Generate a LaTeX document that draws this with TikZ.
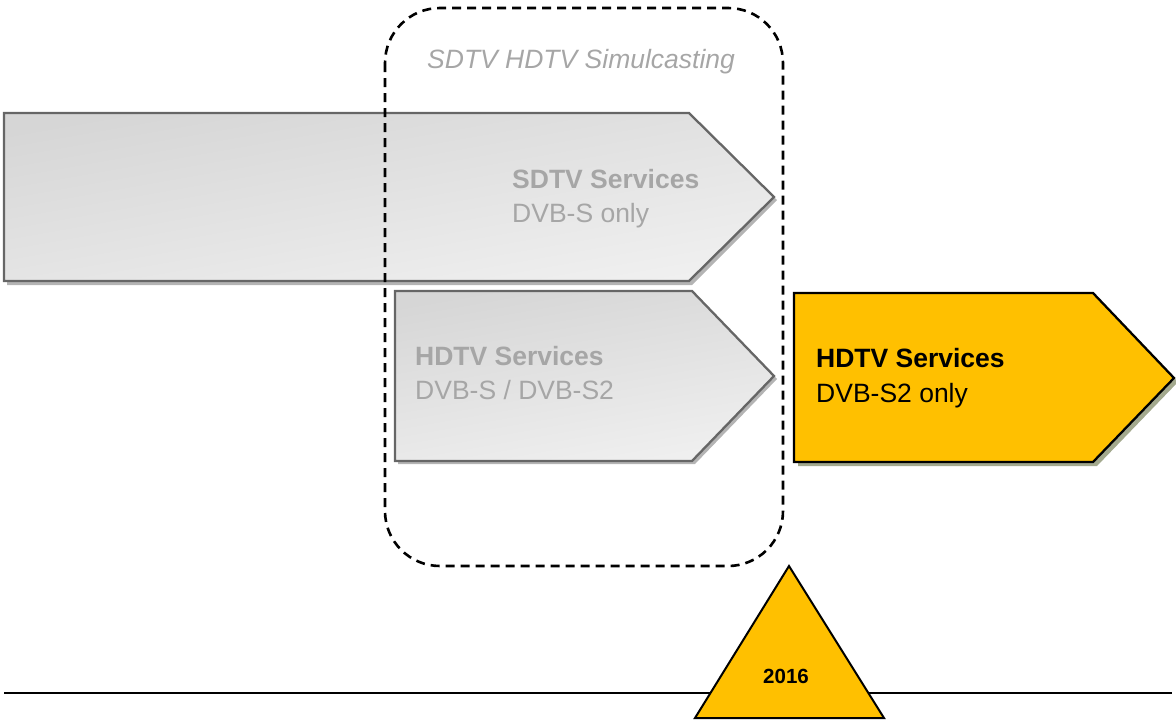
\documentclass[tikz,border=0pt]{standalone}
\usepackage{fontspec}
\setmainfont{Liberation Sans}
\definecolor{txtgray}{HTML}{A6A6A6}
\definecolor{edgegray}{HTML}{666666}
\definecolor{shadgray}{HTML}{B4B4B4}
\definecolor{gold}{HTML}{FFC000}
\definecolor{oliveshad}{HTML}{A3A98E}
\tikzset{
  greyarrow/.style={draw=edgegray, line width=2.3pt, top color=black!16, bottom color=black!6, shading angle=10},
  greyshadow/.style={fill=shadgray, draw=none},
  goldarrow/.style={draw=black, line width=2.3pt, fill=gold},
  goldshadow/.style={fill=oliveshad, draw=none},
  lbl/.style={anchor=base west, inner sep=0pt, font=\fontsize{26.5}{30}\selectfont},
  simbox/.style={draw=black, line width=2.6pt, dash pattern=on 9pt off 6pt, rounded corners=55pt},
}
\begin{document}
\begin{tikzpicture}[x=1pt, y=-1pt]
\useasboundingbox (0,0) rectangle (1176,720);
% SDTV arrow
\fill[greyshadow] (7,116) -- (692,116) -- (777,200) -- (692,285) -- (7,285) -- cycle;
\path[greyarrow] (4,113) -- (689,113) -- (774,197) -- (689,281) -- (4,281) -- cycle;
% HDTV grey arrow
\fill[greyshadow] (398,294) -- (695,294) -- (777,379) -- (695,464) -- (398,464) -- cycle;
\path[greyarrow] (395,291) -- (692,291) -- (774,376) -- (692,461) -- (395,461) -- cycle;
% HDTV gold arrow
\fill[goldshadow] (798,297) -- (1097,297) -- (1178,382) -- (1097,466) -- (798,466) -- cycle;
\path[goldarrow] (794,293) -- (1093,293) -- (1174,378) -- (1093,462) -- (794,462) -- cycle;
% dashed simulcast box
\draw[simbox] (385,8) rectangle (783,566);
% texts
\node[lbl, font=\fontsize{26.5}{30}\selectfont\itshape, text=txtgray] (title) at (427,68) {SDTV HDTV Simulcasting};
\node[lbl, font=\fontsize{26.5}{30}\selectfont\bfseries, text=txtgray] (sdtvh) at (512,188) {SDTV Services};
\node[lbl, text=txtgray] (sdtvs) at (512,222) {DVB-S only};
\node[lbl, font=\fontsize{26.5}{30}\selectfont\bfseries, text=txtgray] (hdgh) at (415,365) {HDTV Services};
\node[lbl, text=txtgray] (hdgs) at (415,399) {DVB-S / DVB-S2};
\node[lbl, font=\fontsize{26.5}{30}\selectfont\bfseries] (hdyh) at (816,367) {HDTV Services};
\node[lbl, font=\fontsize{26.5}{30}\selectfont] (hdys) at (816,402) {DVB-S2 only};
% timeline
\coordinate (tl0) at (4,693);
\coordinate (tl1) at (1172,693);
\draw[line width=1.7pt] (tl0) -- (tl1);
% milestone
\draw[fill=gold, draw=black, line width=2pt, line join=miter] (789,566) -- (884,718) -- (695,718) -- cycle;
\node[anchor=base, inner sep=0pt, font=\fontsize{20.5}{24}\selectfont\bfseries] (year) at (786,683) {2016};
\end{tikzpicture}
\end{document}
